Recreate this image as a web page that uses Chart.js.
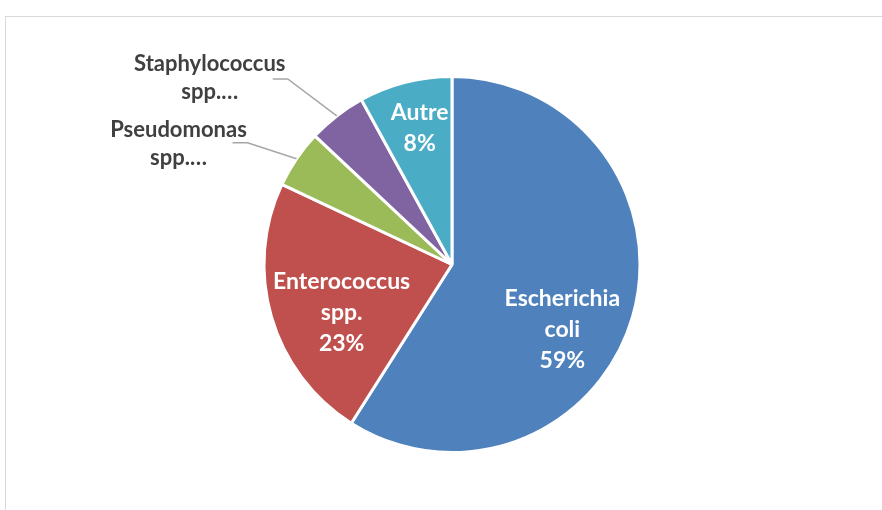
<!DOCTYPE html>
<html>
<head>
<meta charset="utf-8">
<script src="https://cdn.jsdelivr.net/npm/chart.js@4.4.0/dist/chart.umd.min.js"></script>
<style>
  html, body { margin: 0; padding: 0; background: #fff; overflow: hidden; }
  #wrap { position: relative; width: 882px; height: 510px; }
  #frame { position: absolute; left: 5px; top: 16px; width: 1000px; height: 1000px; border: 1px solid #d9d9d9; box-sizing: border-box; }
  canvas { position: absolute; left: 0; top: 0; }
</style>
</head>
<body>
<div id="wrap">
  <div id="frame"></div>
  <canvas id="chart" width="882" height="510"></canvas>
</div>
<script>
const categories = ['Escherichia coli', 'Enterococcus spp.', 'Pseudomonas spp.', 'Staphylococcus spp.', 'Autre'];
const values = [59, 23, 5, 5, 8];
const colors = ['#4F81BD', '#C0504D', '#9BBB59', '#8064A2', '#4BACC6'];
// text as shown on the chart (two labels were cut short)
const labelLines = [['Escherichia', 'coli'], ['Enterococcus', 'spp.'], ['Pseudomonas', 'spp.\u2026'], ['Staphylococcus', 'spp.\u2026'], ['Autre']];
const showPercent = [true, true, false, false, true];

// where each label goes, relative to its slice
const labelLayout = [
  { inside: true, fx: 0.587, fy: 0.344 },
  { inside: true, fx: -0.587, fy: 0.254 },
  { inside: false, ex: -49, ey: -16, tx: -69, ty: 1 },
  { inside: false, ex: -49, ey: -37, tx: -78, ty: -1 },
  { inside: true, fx: -0.172, fy: -0.725 },
];

const pieLabels = {
  id: 'pieLabels',
  afterDatasetsDraw(chart) {
    const ctx = chart.ctx;
    const arcs = chart.getDatasetMeta(0).data;
    const total = values.reduce((a, b) => a + b, 0);
    ctx.save();
    ctx.textAlign = 'center';
    ctx.textBaseline = 'middle';
    arcs.forEach((arc, i) => {
      const { x, y, startAngle, endAngle, outerRadius } = arc.getProps(['x', 'y', 'startAngle', 'endAngle', 'outerRadius'], true);
      const lines = labelLines[i].slice();
      if (showPercent[i]) lines.push(Math.round(values[i] / total * 100) + '%');
      const lay = labelLayout[i];
      let cx, cy, lh;
      if (lay.inside) {
        cx = x + lay.fx * outerRadius;
        cy = y + lay.fy * outerRadius;
        ctx.fillStyle = '#ffffff';
        ctx.font = 'bold 23px Lato';
        lh = 31;
      } else {
        const mid = (startAngle + endAngle) / 2;
        const px = x + Math.cos(mid) * outerRadius;
        const py = y + Math.sin(mid) * outerRadius;
        const ex = px + lay.ex, ey = py + lay.ey;
        ctx.strokeStyle = '#a6a6a6';
        ctx.lineWidth = 1.5;
        ctx.beginPath();
        ctx.moveTo(px, py);
        ctx.lineTo(ex, ey);
        ctx.lineTo(ex - 15, ey);
        ctx.stroke();
        cx = ex + lay.tx;
        cy = ey + lay.ty;
        ctx.fillStyle = '#404040';
        ctx.font = 'bold 22px Lato';
        lh = 28;
      }
      lines.forEach((t, k) => ctx.fillText(t, cx, cy + (k - (lines.length - 1) / 2) * lh));
    });
    ctx.restore();
  }
};

new Chart(document.getElementById('chart'), {
  type: 'pie',
  data: {
    labels: categories,
    datasets: [{
      data: values,
      backgroundColor: colors,
      borderColor: '#ffffff',
      borderWidth: 3
    }]
  },
  options: {
    responsive: false,
    animation: false,
    layout: { padding: { left: 262, right: 240, top: 75, bottom: 56 } },
    plugins: {
      legend: { display: false },
      tooltip: { enabled: false }
    }
  },
  plugins: [pieLabels]
});
</script>
</body>
</html>
